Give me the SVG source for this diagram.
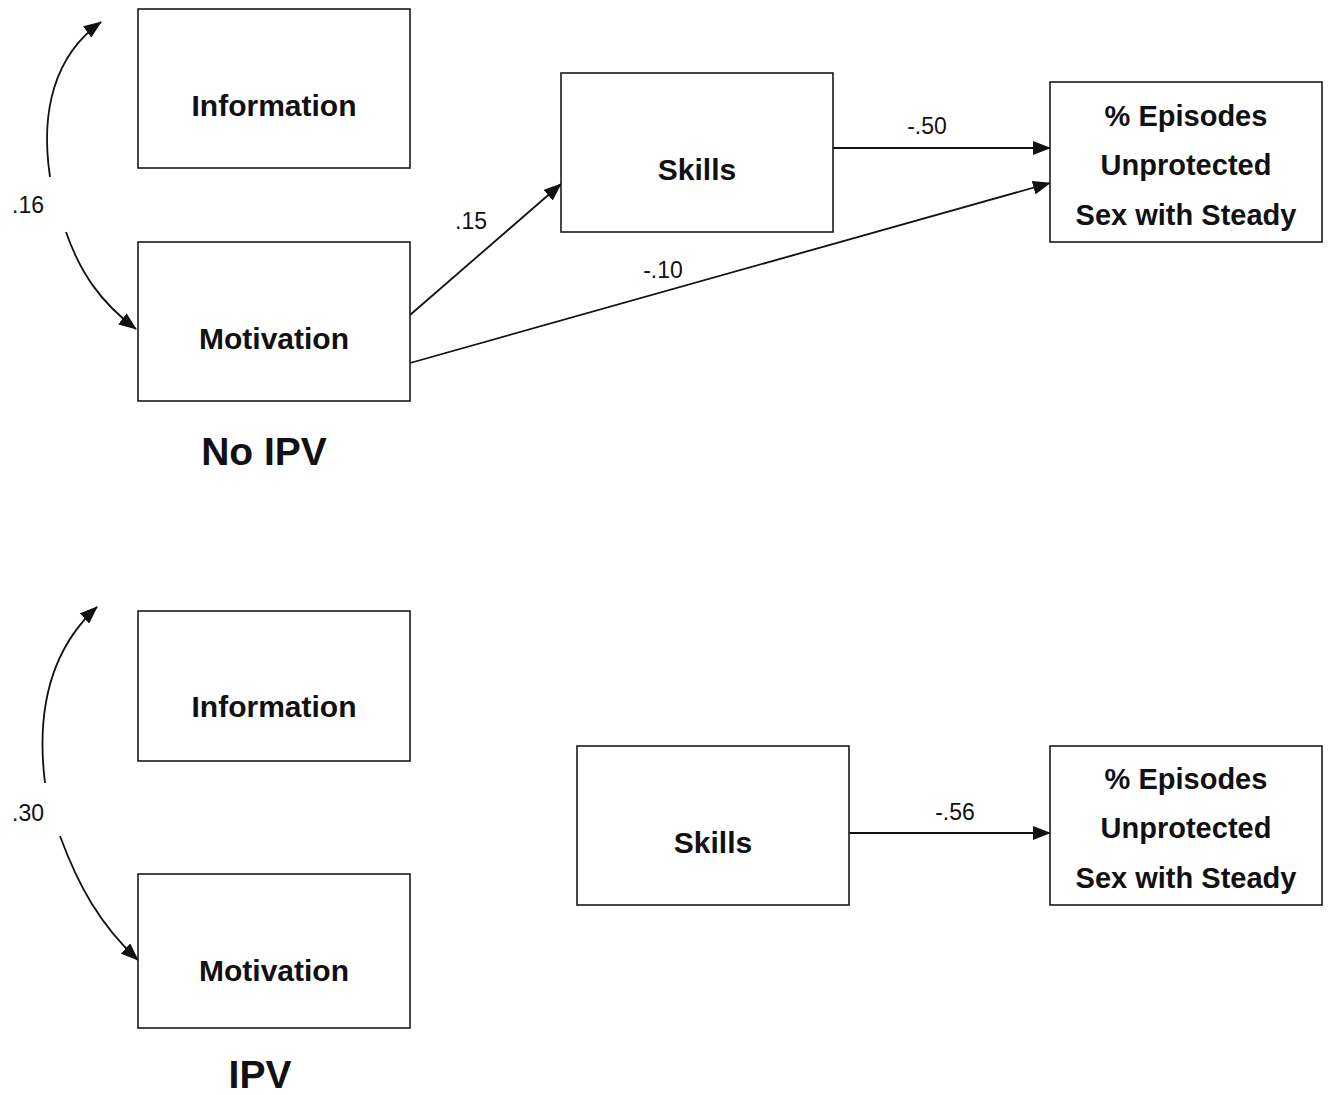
<svg xmlns="http://www.w3.org/2000/svg" width="1331" height="1095" viewBox="0 0 1331 1095">
<defs>
<style>
.box{fill:#fff;stroke:#1a1a1a;stroke-width:1.6}
.nt{font-family:"Liberation Sans",Arial,sans-serif;font-weight:bold;font-size:30px;fill:#111;text-anchor:middle}
.nt2{font-family:"Liberation Sans",Arial,sans-serif;font-weight:bold;font-size:29px;fill:#111;text-anchor:middle}
.lb{font-family:"Liberation Sans",Arial,sans-serif;font-size:23px;fill:#111;text-anchor:middle}
.tt{font-family:"Liberation Sans",Arial,sans-serif;font-weight:bold;font-size:39px;fill:#111;text-anchor:middle}
.cn{fill:none;stroke:#111;stroke-width:1.8;marker-end:url(#ah)}
</style>
<marker id="ah" markerUnits="userSpaceOnUse" markerWidth="18" markerHeight="14" refX="17" refY="7" orient="auto">
<path d="M0,0 L18,7 L0,14 Z" fill="#111"/>
</marker>
</defs>
<rect width="1331" height="1095" fill="#fff"/>
<g id="connectors">
<path class="cn" d="M50,177 C40,110 55,55 101,22"/>
<path class="cn" d="M66,232 C80,272 100,302 136,329"/>
<path class="cn" d="M410,315 L561,184"/>
<path class="cn" d="M410,363 L1050,183"/>
<path class="cn" d="M833,148 L1050,148"/>
<path class="cn" d="M45,783 C36,710 50,650 97,607"/>
<path class="cn" d="M60,836 C78,885 100,925 138,960"/>
<path class="cn" d="M849,833 L1050,833"/>
</g>
<g id="labels">
<text class="lb" x="28" y="213">.16</text>
<text class="lb" x="471" y="229">.15</text>
<text class="lb" x="663" y="278">-.10</text>
<text class="lb" x="927" y="134">-.50</text>
<text class="lb" x="28" y="821">.30</text>
<text class="lb" x="955" y="820">-.56</text>
<text class="tt" x="264" y="465">No IPV</text>
<text class="tt" x="260" y="1088">IPV</text>
</g>
<g id="info1"><rect class="box" x="138" y="9" width="272" height="159"/><text class="nt" x="274" y="116">Information</text></g>
<g id="motiv1"><rect class="box" x="138" y="242" width="272" height="159"/><text class="nt" x="274" y="349">Motivation</text></g>
<g id="skills1"><rect class="box" x="561" y="73" width="272" height="159"/><text class="nt" x="697" y="180">Skills</text></g>
<g id="outcome1"><rect class="box" x="1050" y="82" width="272" height="160"/><text class="nt2" x="1186" y="126">% Episodes</text><text class="nt2" x="1186" y="175">Unprotected</text><text class="nt2" x="1186" y="225">Sex with Steady</text></g>
<g id="info2"><rect class="box" x="138" y="611" width="272" height="150"/><text class="nt" x="274" y="717">Information</text></g>
<g id="motiv2"><rect class="box" x="138" y="874" width="272" height="154"/><text class="nt" x="274" y="981">Motivation</text></g>
<g id="skills2"><rect class="box" x="577" y="746" width="272" height="159"/><text class="nt" x="713" y="853">Skills</text></g>
<g id="outcome2"><rect class="box" x="1050" y="746" width="272" height="159"/><text class="nt2" x="1186" y="789">% Episodes</text><text class="nt2" x="1186" y="838">Unprotected</text><text class="nt2" x="1186" y="888">Sex with Steady</text></g>
</svg>
